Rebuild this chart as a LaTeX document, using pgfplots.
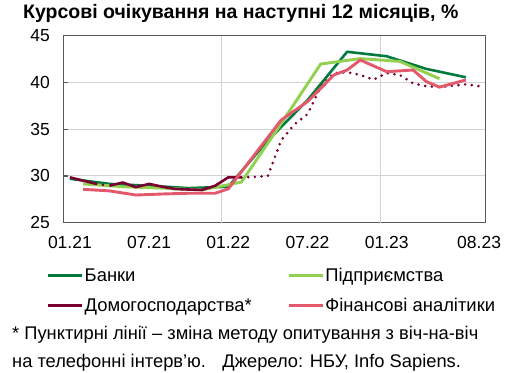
\documentclass[border=0pt]{standalone}
\usepackage{fontspec}
\setmainfont{Liberation Sans}
\usepackage{pgfplots}
\pgfplotsset{compat=1.18}
\definecolor{banks}{RGB}{0,122,61}
\definecolor{firms}{RGB}{146,208,80}
\definecolor{hh}{RGB}{122,0,50}
\definecolor{fa}{RGB}{228,88,108}
\definecolor{axisgray}{RGB}{89,89,89}
\definecolor{gridgray}{RGB}{210,210,210}
\begin{document}
\begin{tikzpicture}
\path[use as bounding box] (0pt,0pt) rectangle (516pt,372pt);
\node[anchor=base west, font=\fontsize{19.5}{22}\selectfont\bfseries, inner sep=0pt] at (23pt,353.7pt) {Курсові очікування на наступні 12 місяців, \%};
\begin{axis}[
  at={(63.3pt,149.3pt)}, anchor=south west,
  scale only axis, width=422.4pt, height=187pt,
  xmin=-0.5, xmax=31.5, ymin=25, ymax=45,
  axis line style={draw=axisgray, line width=1.4pt},
  tick pos=left,
  xtick={0,6,12,18,24,31},
  xticklabels={01.21,07.21,01.22,07.22,01.23,08.23},
  major x tick style={draw=none},
  extra x ticks={11.5,23.5},
  extra x tick labels={},
  extra x tick style={grid=major, major tick length=4pt, tick style={draw=axisgray, line width=1.2pt}},
  ytick={25,30,35,40,45},
  ymajorgrids,
  grid style={draw=gridgray, line width=1pt},
  major tick length=5pt,
  tick align=inside,
  y tick style={draw=axisgray, line width=1.2pt},
  /pgf/number format/assume math mode=true,
  ticklabel style={font=\fontsize{17.5}{20}\selectfont},
  yticklabel style={xshift=-10pt},
  xticklabel style={yshift=-10pt},
  legend columns=2,
  legend cell align=left,
  legend image code/.code={\draw[#1, solid, line width=2.6pt] (0pt,0pt) -- (34pt,0pt);},
  legend style={at={(axis description cs:-0.04,-0.235)}, anchor=north west, draw=none, fill=none,
    font=\fontsize{18.4}{22}\selectfont, inner sep=0pt, row sep=12pt,
    /tikz/every even column/.append style={column sep=34pt},
    nodes={inner sep=1.5pt}},
  every axis plot/.append style={line width=2.6pt, line join=round},
]
\addplot[banks] coordinates {(0,29.7)(3,29.15)(6,28.95)(9,28.7)(12,28.85)(15,33.8)(18,38.1)(21,43.28)(24,42.8)(27,41.45)(30,40.55)};
\addlegendentry{Банки}
\addplot[firms, line width=2.9pt] coordinates {(1,29.15)(4,28.85)(7,28.7)(10,28.5)(13,29.35)(16,35.6)(19,41.97)(22,42.55)(25,42.25)(28,40.4)};
\addlegendentry{Підприємства}
\addplot[hh, forget plot] coordinates {(0,29.85)(1,29.5)(2,29.15)};
\addplot[hh, forget plot, line width=2.9pt, line cap=round, dash pattern=on 0pt off 6.7pt] coordinates {(2,29.15)(3,28.95)};
\addplot[hh] coordinates {(3,28.95)(4,29.3)(5,28.8)(6,29.15)(7,28.85)(8,28.6)(9,28.55)(10,28.5)(11,28.95)(12,29.85)(13,29.85)};
\addlegendentry{Домогосподарства*}
\addplot[hh, forget plot, line width=2.9pt, line cap=round, dash pattern=on 0pt off 6.7pt] coordinates {(13,29.85)(14,29.9)(15,30.0)(16,33.8)(17,35.5)(18,36.6)(19,39.5)(20,41.0)(21,41.1)(22,40.8)(23,40.3)(24,41.0)(25,40.8)(26,39.9)(27,39.6)(28,39.5)(29,39.65)(30,39.8)(31,39.6)};
\addplot[fa, line width=2.9pt] coordinates {(1,28.57)(3,28.4)(5,27.96)(7,28.07)(9,28.15)(11,28.15)(12,28.62)(16,35.97)(18,37.95)(20,40.8)(21,41.33)(22,42.4)(24,41.15)(26,41.33)(27,40.1)(28,39.5)(30,40.27)};
\addlegendentry{Фінансові аналітики}
\end{axis}
\node[anchor=base west, font=\fontsize{18.3}{21}\selectfont, inner sep=0pt] at (12pt,32.5pt) {* Пунктирні лінії – зміна методу опитування з віч-на-віч};
\node[anchor=base west, font=\fontsize{18.3}{21}\selectfont, inner sep=0pt] at (12pt,5pt) {на телефонні інтерв’ю.\hspace{0.9em}Джерело: НБУ, Info Sapiens.};
\end{tikzpicture}
\end{document}
